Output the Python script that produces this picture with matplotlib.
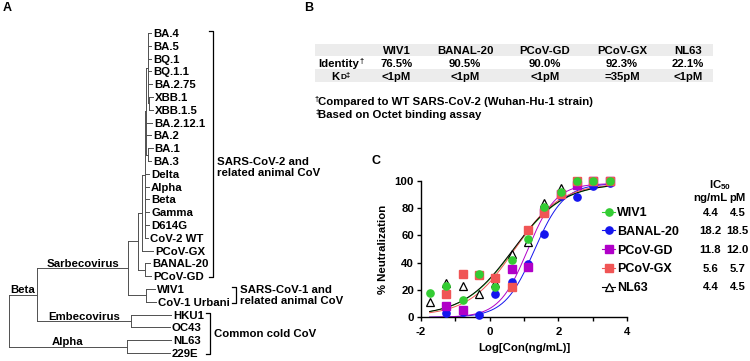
import numpy as np
import matplotlib.pyplot as plt
from matplotlib.patches import Rectangle

plt.rcParams['font.family'] = ['Liberation Sans', 'DejaVu Sans']
plt.rcParams['font.weight'] = 'bold'
plt.rcParams['axes.labelweight'] = 'bold'
plt.rcParams['axes.unicode_minus'] = False
plt.rcParams['mathtext.fontset'] = 'custom'
plt.rcParams['mathtext.rm'] = 'Liberation Sans:bold'
plt.rcParams['mathtext.it'] = 'Liberation Sans:bold'
plt.rcParams['mathtext.bf'] = 'Liberation Sans:bold'

# ---- A: tree ----
leaves = ['BA.4', 'BA.5', 'BQ.1', 'BQ.1.1', 'BA.2.75', 'XBB.1', 'XBB.1.5', 'BA.2.12.1',
          'BA.2', 'BA.1', 'BA.3', 'Delta', 'Alpha', 'Beta', 'Gamma', 'D614G', 'CoV-2 WT',
          'PCoV-GX', 'BANAL-20', 'PCoV-GD', 'WIV1', 'CoV-1 Urbani', 'HKU1', 'OC43', 'NL63', '229E']
# where each leaf branch ends (label starts just right of it)
leaf_tip = [151, 151, 151, 151, 152, 153, 153, 152, 151, 152.5, 151, 149, 149, 149, 149, 149, 148,
            153, 150, 151, 155, 156, 171, 170, 171, 170]
node_x = {'root': 9, 'Beta': 37, 'Alpha': 127, 'Sarbeco': 128, 'Embeco': 131,
          'CoV1': 146, 'CoV2all': 138, 'BANALGD': 145, 'cladeX': 141.5,
          'SARS2': 144.5, 'Omi': 146, 'OmiA': 147.7, 'XBB': 149.3, 'BA13': 148.3}
node_kids = {'root': ['Beta', 'Alpha'],
             'Beta': ['Sarbeco', 'Embeco'],
             'Alpha': ['NL63', '229E'],
             'Embeco': ['HKU1', 'OC43'],
             'Sarbeco': ['CoV2all', 'CoV1'],
             'CoV1': ['WIV1', 'CoV-1 Urbani'],
             'CoV2all': ['cladeX', 'BANALGD'],
             'BANALGD': ['BANAL-20', 'PCoV-GD'],
             'cladeX': ['SARS2', 'PCoV-GX'],
             'SARS2': ['Omi', 'Delta', 'Alpha ', 'Beta ', 'Gamma', 'D614G', 'CoV-2 WT'],
             'Omi': ['OmiA', 'BA.2.12.1', 'BA.2', 'BA13'],
             'OmiA': ['BA.4', 'BA.5', 'BQ.1', 'BQ.1.1', 'BA.2.75', 'XBB'],
             'XBB': ['XBB.1', 'XBB.1.5'],
             'BA13': ['BA.1', 'BA.3']}
branch_names = {'Beta': 'Beta', 'Sarbeco': 'Sarbecovirus', 'Embeco': 'Embecovirus', 'Alpha': 'Alpha'}
brackets = [('BA.4', 'PCoV-GD', 213, 10.5, 'SARS-CoV-2 and\nrelated animal CoV'),
            ('WIV1', 'CoV-1 Urbani', 236, 20.5, 'SARS-CoV-1 and\nrelated animal CoV'),
            ('HKU1', '229E', 210, 23.5, 'Common cold CoV')]

# ---- B: table ----
viruses = ['WIV1', 'BANAL-20', 'PCoV-GD', 'PCoV-GX', 'NL63']
identity = ['76.5%', '90.5%', '90.0%', '92.3%', '22.1%']
kd = ['<1pM', '<1pM', '<1pM', '=35pM', '<1pM']
notes = ['Compared to WT SARS-CoV-2 (Wuhan-Hu-1 strain)', 'Based on Octet binding assay']

# ---- C: neutralization ----
log_conc = [-1.75, -1.27, -0.79, -0.32, 0.16, 0.64, 1.11, 1.59, 2.07, 2.55, 3.02, 3.5]
wiv1 = [18, 23, 13, 32, 22, 42, 57, 81, 92, 100, 100, 100]
banal20 = [np.nan, 3, 4, 2, 17, 26, 39, 61, 89, 88, 96, 98]
pcov_gd = [np.nan, 8, 5, np.nan, np.nan, 35, 37, 77, 90, 97, 100, 100]
pcov_gx = [np.nan, 17, 32, 31, 29, 22, 64, 76, 90, 100, 100, 100]
nl63 = [11, 25, 23, 17, 25, 46, 55, 84, 95, 100, 100, 100]
# 4PL fit: bottom, top, logIC50, hill
fit_wiv1 = (1, 98, 0.70, 0.60)
fit_banal20 = (0, 98, 1.30, 1.00)
fit_pcov_gd = (0, 98, 1.10, 1.05)
fit_pcov_gx = (1, 98, 0.72, 0.65)
fit_nl63 = (1, 98, 0.68, 0.60)
ic50_ng = ['4.4', '18.2', '11.8', '5.6', '4.4']
ic50_pm = ['4.5', '18.5', '12.0', '5.7', '4.5']

fig = plt.figure(figsize=(7.5, 3.61), dpi=100)
ov = fig.add_axes([0, 0, 1, 1])
ov.set_xlim(0, 750)
ov.set_ylim(361, 0)
ov.axis('off')

fs = 8.2
sm = 5.5
lc = '#505050'
leaf_y = {n: 33 + 12.8 * i for i, n in enumerate(leaves)}
tip = dict(zip(leaves, leaf_tip))
# duplicated leaf names inside SARS2 clade
leaf_y['Alpha '] = leaf_y['Alpha']
leaf_y['Beta '] = leaf_y['Beta']
tip['Alpha '] = tip['Alpha']
tip['Beta '] = tip['Beta']


def node_pos(n):
    if n in node_kids:
        ys = [node_pos(k)[1] for k in node_kids[n]]
        return node_x[n], (ys[0] + ys[-1]) / 2
    return tip[n], leaf_y[n]


def draw(n):
    x, y = node_pos(n)
    kids = node_kids[n]
    ys = [node_pos(k)[1] for k in kids]
    ov.plot([x, x], [ys[0], ys[-1]], color=lc, lw=0.7)
    for k in kids:
        kx, ky = node_pos(k)
        ov.plot([x, kx], [ky, ky], color=lc, lw=0.7)
        if k in node_kids:
            draw(k)
            if k in branch_names:
                ov.text((x + kx) / 2, ky - 1.5, branch_names[k], fontsize=fs,
                        ha='center', va='baseline')


draw('root')
for n in leaves:
    ov.text(tip[n] + 2, leaf_y[n], n, fontsize=fs, ha='left', va='center_baseline')

for top, bot, bx, lab_i, lab in brackets:
    y0 = leaf_y[top] - 2
    y1 = leaf_y[bot] + 1
    ov.plot([bx - 4, bx, bx, bx - 4], [y0, y0, y1, y1], color='black', lw=0.9)
    ov.text(bx + 4, 33 + 12.8 * lab_i, lab, fontsize=fs, ha='left', va='center',
            linespacing=1.15)

ov.text(3, 8, 'A', fontsize=9, ha='left', va='center')
ov.text(304, 8, 'B', fontsize=9, ha='left', va='center')
ov.text(371, 161, 'C', fontsize=9, ha='left', va='center')

# table
ov.add_patch(Rectangle((315, 43.5), 398, 12.5, color='#ececec', lw=0))
ov.add_patch(Rectangle((315, 68.5), 398, 13, color='#ececec', lw=0))
col_x = [396.5, 465, 545, 622, 688]
for cx, v, idn, k in zip(col_x, viruses, identity, kd):
    ov.text(cx, 50.5, v, fontsize=fs, ha='center', va='center_baseline')
    ov.text(cx, 62.7, idn, fontsize=fs, ha='center', va='center_baseline')
    ov.text(cx, 75.5, k, fontsize=fs, ha='center', va='center_baseline')
# row labels with small dagger marks
ov.text(359, 62.7, 'Identity', fontsize=fs, ha='right', va='center_baseline')
ov.text(359.5, 60.5, '\u2020', fontsize=sm, ha='left', va='center_baseline')
ov.text(340, 75.5, 'K', fontsize=fs, ha='right', va='center_baseline')
ov.text(340.3, 76.8, 'D', fontsize=sm + 0.5, ha='left', va='center_baseline')
ov.text(345.5, 74.0, '\u2021', fontsize=sm, ha='left', va='center_baseline')
for i, (mark, note) in enumerate(zip(['\u2020', '\u2021'], notes)):
    ny = 100.7 + 13.3 * i
    ov.text(315, ny - 2.2, mark, fontsize=sm, ha='left', va='center_baseline')
    ov.text(318.5, ny, note, fontsize=fs, ha='left', va='center_baseline')

# panel C
ax = fig.add_axes([421 / 750, (361 - 317.3) / 361, 206 / 750, 136.6 / 361])
ax.set_facecolor('none')
ax.set_xlim(-2, 4)
ax.set_ylim(0, 100)
ax.spines['top'].set_visible(False)
ax.spines['right'].set_visible(False)
for s in ['left', 'bottom']:
    ax.spines[s].set_linewidth(1.0)
ax.set_xticks([-2, 0, 2, 4])
ax.set_xticks([-1, 1, 3], minor=True)
ax.set_yticks([0, 20, 40, 60, 80, 100])
ax.tick_params(which='both', direction='out', length=3, width=1.0, labelsize=fs, pad=2)
ax.tick_params(axis='x', pad=4)
ax.set_xlabel('Log[Con(ng/mL)]', fontsize=fs)
ax.set_ylabel('% Neutralization', fontsize=fs)
ax.xaxis.set_label_coords(0.5, -0.19)
ax.yaxis.set_label_coords(-0.16, 0.5)

series = [('WIV1', wiv1, fit_wiv1, '#33cc33', 'o', 6),
          ('BANAL-20', banal20, fit_banal20, '#1515ee', 'o', 3),
          ('PCoV-GD', pcov_gd, fit_pcov_gd, '#b000c8', 's', 4),
          ('PCoV-GX', pcov_gx, fit_pcov_gx, '#f05555', 's', 5),
          ('NL63', nl63, fit_nl63, 'black', '^', 2)]
xc = np.linspace(log_conc[0], log_conc[-1], 200)
for i, (name, vals, fit, col, mk, z) in enumerate(series):
    b, t, lic, h = fit
    ax.plot(xc, b + (t - b) / (1 + 10 ** ((lic - xc) * h)), color=col, lw=0.7, zorder=1)
    if mk == '^':
        ax.plot(log_conc, vals, ls='none', marker=mk, ms=5.5, mfc='white', mec=col,
                mew=0.9, clip_on=False, zorder=z)
    else:
        ax.plot(log_conc, vals, ls='none', marker=mk, ms=5.2, mfc=col, mec=col,
                clip_on=False, zorder=z)
    ly = 211.7 + 18.7 * i
    ov.plot([602, 615], [ly, ly], color=col, lw=0.8)
    if mk == '^':
        ov.plot([608.5], [ly], marker=mk, ms=5.5, mfc='white', mec=col, mew=0.9)
    else:
        ov.plot([608.5], [ly], marker=mk, ms=5.2, mfc=col, mec=col)
    ov.text(617, ly, name, fontsize=9, ha='left', va='center_baseline')
    ov.text(710.5, ly, ic50_ng[i], fontsize=fs, ha='center', va='center_baseline')
    ov.text(737.5, ly, ic50_pm[i], fontsize=fs, ha='center', va='center_baseline')

ov.text(720, 183, r'IC$_{50}$', fontsize=fs, ha='center', va='center_baseline')
ov.text(710.5, 196.7, 'ng/mL', fontsize=fs, ha='center', va='center_baseline')
ov.text(737.5, 196.7, 'pM', fontsize=fs, ha='center', va='center_baseline')

fig.savefig('out.png', dpi=100)
